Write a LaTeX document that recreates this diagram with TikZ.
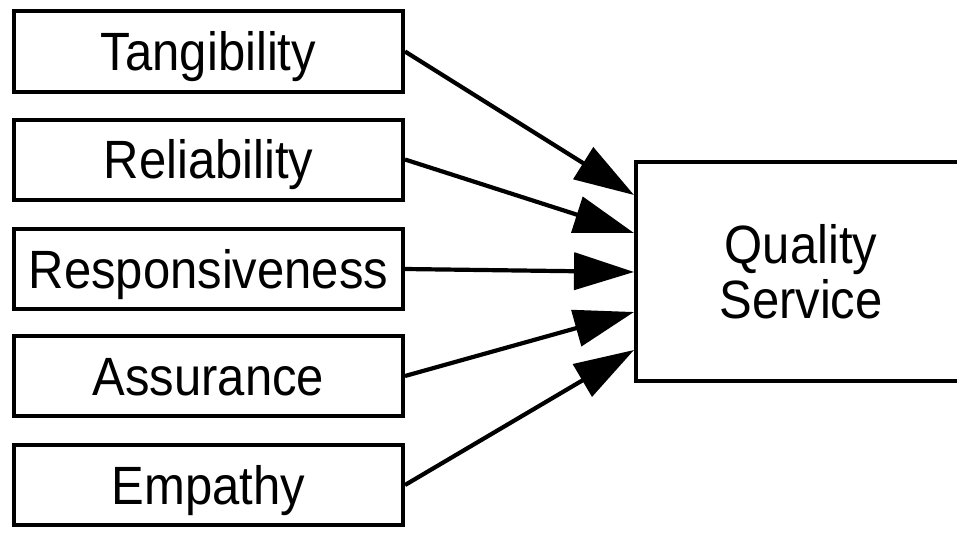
\documentclass[tikz,border=0pt]{standalone}
\usepackage{fontspec}
\setmainfont{Liberation Sans}
\usetikzlibrary{arrows.meta}
\newcommand{\vs}[1]{\scalebox{1}[1.1]{#1}}
\begin{document}
\begin{tikzpicture}[x=1pt,y=-1pt,
  dim/.style={draw=black,line width=4pt,inner sep=0pt,minimum width=389pt,minimum height=80pt,
    font=\fontsize{49}{55}\selectfont,text height=38pt,text depth=0pt},
  target/.style={draw=black,line width=4pt,inner sep=0pt,minimum width=330pt,minimum height=219pt,
    font=\fontsize{49}{55}\selectfont,align=center},
  conn/.style={line width=4.2pt,-{Triangle[length=60pt,width=37pt]}}]
\fill[white] (0,0) rectangle (957,543);
\useasboundingbox (0,0) rectangle (957,543);
\node[dim] (tan) at (208.5,51.5) {\vs{Tangibility}};
\node[dim] (rel) at (208.5,159.5) {\vs{Reliability}};
\node[dim] (res) at (208.5,269) {\vs{Responsiveness}};
\node[dim] (ass) at (208.5,376) {\vs{Assurance}};
\node[dim] (emp) at (208.5,485) {\vs{Empathy}};
\node[target] (qs) at (801,271.5) {\vs{Quality}\\\vs{Service}};
\coordinate (e1) at (634,195);
\coordinate (e2) at (634,233);
\coordinate (e3) at (634,272);
\coordinate (e4) at (634,312);
\coordinate (e5) at (634,350);
\draw[conn] (tan.east) -- (e1);
\draw[conn] (rel.east) -- (e2);
\draw[conn] (res.east) -- (e3);
\draw[conn] (ass.east) -- (e4);
\draw[conn] (emp.east) -- (e5);
\end{tikzpicture}
\end{document}
